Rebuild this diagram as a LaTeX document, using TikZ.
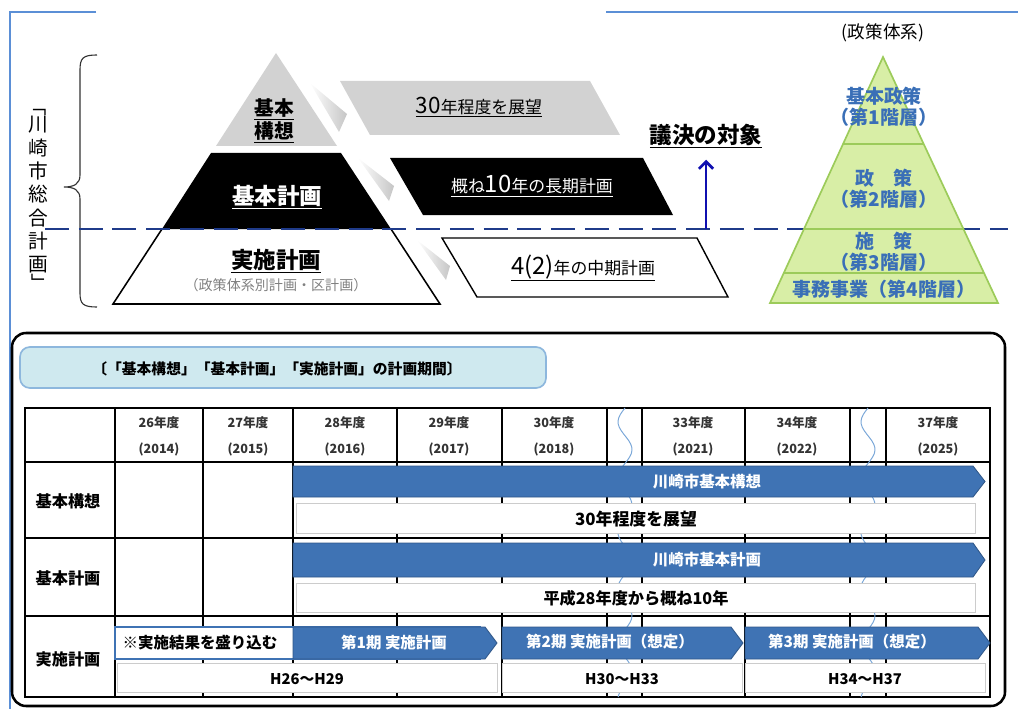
\documentclass[tikz,border=0pt]{standalone}
\usepackage{fontspec}
\setmainfont{Noto Sans CJK JP}
\usepackage{tikz}
\usepackage{xcolor}
\usetikzlibrary{
  positioning,
  arrows.meta
}
\definecolor{frameblue}{HTML}{5B8FD6}
\definecolor{navy}{HTML}{1F3B8A}
\definecolor{votblue}{HTML}{1010B0}
\definecolor{polgreen}{HTML}{D8EEA6}
\definecolor{poledge}{HTML}{9CCB5A}
\definecolor{polblue}{HTML}{3A6FB7}
\definecolor{barblue}{HTML}{3F73B4}
\definecolor{titlefill}{HTML}{CFE9EF}
\definecolor{titleedge}{HTML}{8DB7DD}
\definecolor{waveblue}{HTML}{7AA7D8}
\newcommand{\fsz}[1]{\fontsize{#1}{#1}\selectfont}
\tikzset{
  >={Straight Barb[length=5pt, width=10pt]},
  frame/.style = {
    draw=frameblue, line width=1.4pt
  },
  lab/.style = {
    inner sep=0pt, align=center
  },
  lvl/.style = {
    lab, text=polblue, font=\bfseries\fontsize{13.5}{15}\selectfont
  },
  hd/.style = {
    inner sep=0pt, text=black!80, font=\bfseries\fsz{9}
  },
  rowlab/.style = {
    inner sep=0pt, font=\bfseries\fsz{11}
  },
  bar/.style = {
    fill=barblue, draw=barblue!75!black, line width=0.6pt
  },
  spanbox/.style = {
    fill=white, draw=black!20, line width=0.6pt
  },
  btxt/.style = {
    inner sep=0pt, text=white, font=\bfseries\fsz{11}
  },
  tline/.style = {
    line width=0.9pt
  },
  wave/.style = {
    draw=waveblue, line width=0.7pt
  }
}
% bar with a pointed right end: x1, x2, y1, y2
\newcommand{\planbar}[4]{%
  \path[bar] (#1,#3) -- (#2-12,#3) -- (#2,{(#3+#4)/2}) -- (#2-12,#4) -- (#1,#4) -- cycle;
}

\begin{document}
\begin{tikzpicture}[x=0.025cm, y=-0.025cm]
  \useasboundingbox (0,0) rectangle (1018,709);
  \draw[frame] (96,12) -- (10,12) -- (10,709);
  \draw[frame] (606,12) -- (1018,12);

  % left pyramid
  \fill[gray!35] (276,53) -- (337,146) -- (216,146) -- cycle;
  \fill[black] (211,153) -- (341,153) -- (391,229) -- (162,229) -- cycle;
  \draw[line width=1.1pt] (162,229) -- (113,304) -- (440,304) -- (391,229);
  \shade[left color=white, right color=gray!45] (310,83) -- (347,114) -- (339,132) -- cycle;
  \shade[left color=white, right color=gray!45] (358,158) -- (394,186) -- (389,201) -- cycle;
  \shade[left color=white, right color=gray!45] (417,240) -- (450,266) -- (446,280) -- cycle;

  % parallelograms
  \fill[gray!35] (340,81) -- (590,81) -- (620,135) -- (370,135) -- cycle;
  \fill[black] (390,158) -- (643,158) -- (673,215) -- (423,215) -- cycle;
  \draw[line width=1pt] (442,238) -- (697,238) -- (728,297) -- (477,297) -- cycle;

  \path
    (38,106) node [lab, rotate=-90, font=\fsz{14}] (sgo) {「}
    (38,195) node [lab, font=\fontsize{14}{16.6}\selectfont] (sg) {川\\崎\\市\\総\\合\\計\\画}
    (38,283) node [lab, rotate=-90, font=\fsz{14}] (sgc) {」}
    (274,121) node [lab, font=\bfseries\fontsize{14}{16.5}\selectfont] (kk) {\underline{基本}\\\underline{構想}}
    (277,197) node [lab, text=white, font=\bfseries\fsz{16}] (kp) {\underline{基本計画}}
    (276,261) node [lab, font=\bfseries\fsz{16}] (jp) {\underline{実施計画}}
    (276,285) node [lab, text=black!50, font=\fsz{10}] (jps) {（政策体系別計画・区計画）}
    (479,107) node [lab, font=\fsz{12}] (p30) {\underline{{\fsz{16}30}年程度を展望}}
    (532,186) node [lab, text=white, font=\fsz{12}] (p10) {\underline{概ね{\fsz{17}10}年の長期計画}}
    (583,268) node [lab, font=\fsz{12}] (p4) {\underline{{\fsz{17}4(2)}年の中期計画}}
    (706,136) node [lab, font=\bfseries\fsz{16}] (gk) {\underline{議決の対象}};

  % brace
  \draw[line width=0.8pt, black!80] (97,55) .. controls (83,55) and (80,58) .. (80,70)
    -- (80,175) .. controls (80,184) and (74,187) .. (64,187)
    .. controls (74,187) and (80,190) .. (80,199)
    -- (80,293) .. controls (80,304) and (83,307) .. (97,307);

  % dividing line and arrow
  \draw[navy, line width=1.8pt, dash pattern=on 17pt off 7pt] (45,229) -- (1008,229);
  \coordinate (gkb) at (706,229);
  \draw[->, votblue, line width=2pt] (gkb) -- ([yshift=-8pt]gk.south);

  % right pyramid
  \draw[fill=polgreen, draw=poledge, line width=1.2pt] (883,57) -- (998,303) -- (770,303) -- cycle;
  \draw[poledge, line width=1.2pt] (843,144) -- (924,144)
    (804,229) -- (963,229)
    (784,273) -- (984,273);
  \path
    (883,33) node [lab, font=\fsz{12.5}] (pt) {(政策体系)}
    (884,107) node [lvl] (l1) {基本政策\\（第1階層）}
    (884,189) node [lvl] (l2) {政　策\\（第2階層）}
    (884,252) node [lvl] (l3) {施　策\\（第3階層）}
    (884,289) node [lvl] (l4) {事務事業（第4階層）};

  % lower panel
  \draw[line width=1.8pt, rounded corners=10pt] (12,333) rectangle (1005,706);
  \draw[fill=titlefill, draw=titleedge, line width=1.2pt, rounded corners=7pt] (20,347) rectangle (546,388);
  \node [lab, font=\bfseries\fsz{10.5}] (tt) at (277,369) {〔「基本構想」「基本計画」「実施計画」の計画期間〕};

  % table
  \foreach \x in {115,203,293,397,502,607,642,745,850,886}
    \draw[tline] (\x,408) -- (\x,697);
  \foreach \y in {462,538,616}
    \draw[tline] (25,\y) -- (990,\y);
  \draw[tline] (25,408) rectangle (990,697);
  \draw[wave] plot[domain=408:697, samples=90, smooth] ({625-7*sin((\x-408)*6.5)}, \x);
  \draw[wave] plot[domain=408:697, samples=90, smooth] ({868-7*sin((\x-408)*6.5)}, \x);

  \foreach \x/\a/\b in {159/26/2014, 248/27/2015, 345/28/2016, 449/29/2017, 554/30/2018,
                        693/33/2021, 797/34/2022, 938/37/2025} {
    \node [hd] (n\a) at (\x,423) {{\a}年度};
    \node [hd] (y\b) at (\x,449) {({\b})};
  }
  \path
    (68,501) node [rowlab, font=\bfseries\fsz{11.5}] (r1) {基本構想}
    (68,578) node [rowlab, font=\bfseries\fsz{11.5}] (r2) {基本計画}
    (68,659) node [rowlab, font=\bfseries\fsz{11.5}] (r3) {実施計画};

  % bars
  \planbar{293}{985}{466}{497}
  \path[spanbox] (296,503) rectangle (975,533);
  \planbar{293}{985}{543}{577}
  \path[spanbox] (296,583) rectangle (975,612);
  \path[fill=white, draw=barblue, line width=0.9pt] (115,627) rectangle (480,659);
  \planbar{293}{497}{627}{659}
  \planbar{502}{743}{627}{659}
  \planbar{745}{990}{627}{659}
  \path[spanbox] (117,663) rectangle (497,692);
  \path[spanbox] (502,663) rectangle (742,692);
  \path[spanbox] (745,663) rectangle (985,692);

  \path
    (707,482) node [btxt] (b1) {川崎市基本構想}
    (636,519) node [rowlab, font=\bfseries\fsz{12}] (s1) {30年程度を展望}
    (707,560) node [btxt] (b2) {川崎市基本計画}
    (636,598) node [rowlab, font=\bfseries\fsz{11.5}] (s2) {平成28年度から概ね10年}
    (200,643) node [rowlab] (note) {※実施結果を盛り込む}
    (394,643) node [btxt] (e1) {第1期\ 実施計画}
    (610,642) node [btxt] (e2) {第2期\ 実施計画（想定）}
    (852,642) node [btxt] (e3) {第3期\ 実施計画（想定）}
    (307,679) node [rowlab, font=\bfseries\fsz{10.5}] (h1) {H26〜H29}
    (622,679) node [rowlab, font=\bfseries\fsz{10.5}] (h2) {H30〜H33}
    (865,679) node [rowlab, font=\bfseries\fsz{10.5}] (h3) {H34〜H37};
\end{tikzpicture}
\end{document}
